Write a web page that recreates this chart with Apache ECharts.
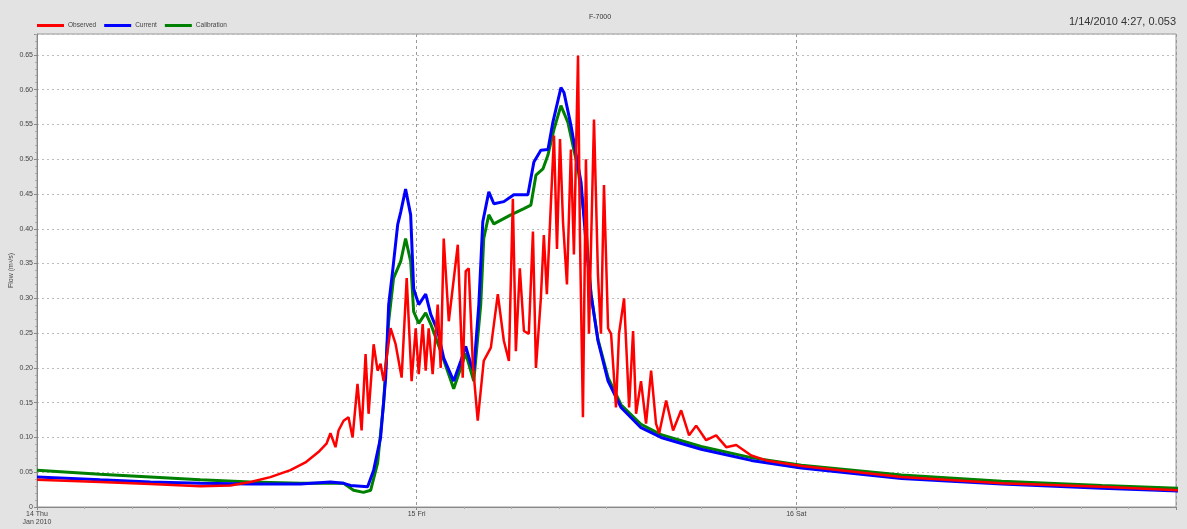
<!DOCTYPE html>
<html><head><meta charset="utf-8">
<script src="https://cdn.jsdelivr.net/npm/echarts@6/dist/echarts.min.js"></script>
<style>html,body{margin:0;padding:0;background:#e3e3e3;}#c{width:1187px;height:529px;}</style>
</head><body><div id="c"></div>
<script>
// Hours after 14 Jan 2010 00:00, and flow values
const observedHours = [0,3.99,7.16,10.32,12.22,13.49,14.75,16.02,16.97,17.79,18.30,18.55,18.87,19.06,19.38,19.69,19.95,20.26,20.52,20.77,20.96,21.28,21.53,21.72,21.91,22.35,22.67,23.05,23.37,23.68,23.94,24.13,24.38,24.57,24.76,25.01,25.33,25.52,25.71,26.03,26.60,26.91,27.10,27.29,27.55,27.86,28.24,28.69,29.13,29.51,29.83,30.08,30.27,30.52,30.78,31.09,31.35,31.54,31.85,32.04,32.23,32.49,32.68,32.87,33.06,33.25,33.50,33.75,33.94,34.20,34.32,34.51,34.70,34.89,35.21,35.46,35.65,35.84,36.10,36.29,36.60,36.79,37.11,37.43,37.68,37.87,38.18,38.50,38.82,39.13,39.33,39.77,40.21,40.72,41.22,41.67,42.30,42.93,43.57,44.20,45.15,46.10,48.32,54.65,60.98,67.31,72.13];
const observedValues = [0.039,0.036,0.033,0.030,0.031,0.036,0.043,0.053,0.064,0.079,0.091,0.106,0.086,0.110,0.124,0.129,0.100,0.177,0.110,0.220,0.134,0.234,0.196,0.206,0.181,0.257,0.234,0.186,0.329,0.181,0.257,0.191,0.263,0.196,0.257,0.191,0.291,0.200,0.386,0.267,0.377,0.186,0.339,0.343,0.206,0.124,0.210,0.229,0.306,0.239,0.210,0.443,0.224,0.343,0.253,0.249,0.396,0.200,0.300,0.391,0.306,0.439,0.534,0.371,0.529,0.410,0.320,0.514,0.363,0.649,0.391,0.129,0.500,0.249,0.557,0.334,0.249,0.463,0.257,0.249,0.143,0.249,0.300,0.143,0.253,0.134,0.181,0.120,0.196,0.120,0.106,0.153,0.110,0.139,0.103,0.117,0.096,0.103,0.086,0.089,0.074,0.067,0.059,0.043,0.034,0.029,0.024];

const currentHours = [0,3.99,7.16,10.32,13.49,16.65,18.55,19.38,19.82,20.90,21.28,21.72,22.04,22.23,22.48,22.80,22.99,23.30,23.62,23.81,24.13,24.57,24.89,25.33,25.71,26.34,26.79,27.10,27.42,27.61,27.93,28.18,28.56,28.88,29.51,30.14,31.03,31.41,31.85,32.30,32.61,33.12,33.31,33.75,34.39,34.70,35.02,35.46,36.10,36.92,38.18,39.45,41.98,45.15,48.32,54.65,60.98,67.31,72.13];
const currentValues = [0.043,0.039,0.036,0.034,0.033,0.033,0.036,0.034,0.031,0.029,0.053,0.100,0.186,0.291,0.339,0.406,0.424,0.457,0.420,0.314,0.291,0.306,0.277,0.253,0.214,0.181,0.210,0.231,0.206,0.196,0.291,0.410,0.453,0.436,0.439,0.449,0.449,0.496,0.513,0.514,0.553,0.603,0.596,0.549,0.467,0.381,0.306,0.239,0.181,0.143,0.114,0.100,0.083,0.067,0.056,0.041,0.033,0.027,0.023];

const calibrationHours = [0,3.99,7.16,10.32,13.49,16.65,19.38,20.01,20.64,21.09,21.53,21.91,22.23,22.54,22.99,23.30,23.62,23.81,24.13,24.57,24.89,25.52,26.34,26.79,27.10,27.61,28.05,28.24,28.56,28.88,29.95,30.78,31.22,31.54,31.98,32.30,32.68,33.12,33.56,34.20,34.70,35.02,35.46,36.10,36.92,38.18,39.45,41.98,45.15,48.32,54.65,60.98,67.31,72.13];
const calibrationValues = [0.053,0.047,0.043,0.039,0.036,0.034,0.034,0.024,0.021,0.024,0.063,0.149,0.267,0.329,0.353,0.386,0.353,0.281,0.264,0.279,0.263,0.224,0.170,0.200,0.221,0.181,0.291,0.386,0.420,0.407,0.420,0.429,0.434,0.477,0.486,0.506,0.543,0.577,0.553,0.486,0.400,0.306,0.241,0.186,0.147,0.119,0.104,0.087,0.071,0.060,0.046,0.037,0.031,0.027];

const seriesNames = ['Observed','Current','Calibration'];
const dayLabels = ['14 Thu\nJan 2010','15 Fri','16 Sat'];
const chartTitle = 'F-7000';
const cursorText = '1/14/2010 4:27, 0.053';
const yAxisTitle = 'Flow (m³/s)';
const xAxisTitle = 'Date/Time';

function pairs(hs, vs){ return hs.map((h,i)=>[h, vs[i]]); }

const chart = echarts.init(document.getElementById('c'), null, {renderer:'canvas'});
const labelFont = {fontFamily:'Liberation Sans', fontSize:7, color:'#444'};
chart.setOption({
  backgroundColor:'#e3e3e3',
  animation:false,
  title:[
    {text:chartTitle, left:595, top:9, textAlign:'center', textStyle:{fontFamily:'Liberation Sans', fontSize:7, fontWeight:'normal', color:'#333'}},
    {text:cursorText, right:6, top:11, textStyle:{fontFamily:'Liberation Sans', fontSize:11, fontWeight:'normal', color:'#333'}}
  ],
  legend:{
    data:seriesNames, left:32, top:17, itemWidth:27, itemHeight:3, itemGap:8, icon:'rect',
    textStyle:{fontFamily:'Liberation Sans', fontSize:6.5, color:'#444', padding:[0,0,0,-1]}
  },
  grid:{left:37, right:11, top:34, bottom:22, show:true, backgroundColor:'#ffffff', borderColor:'#999', borderWidth:1, outerBoundsMode:'none', containLabel:false},
  xAxis:{
    type:'value', min:0, max:72, interval:24,
    name:xAxisTitle, nameLocation:'middle', nameGap:13, nameTextStyle:labelFont,
    axisLine:{show:true, onZero:false, lineStyle:{color:'#888'}},
    axisTick:{show:true, length:3, lineStyle:{color:'#888'}},
    minorTick:{show:true, splitNumber:8, length:2, lineStyle:{color:'#aaa'}},
    splitLine:{show:true, lineStyle:{color:'#999', type:[3,3], width:1}},
    axisLabel:Object.assign({}, labelFont, {
      margin:3, showMaxLabel:false, showMinLabel:true, lineHeight:8,
      formatter:function(v){ const i = Math.round(v/24); return dayLabels[i] || ''; }
    })
  },
  yAxis:{
    type:'value', min:0, max:0.68, interval:0.05,
    name:yAxisTitle, nameLocation:'middle', nameGap:22, nameRotate:90, nameMoveOverlap:false, nameTextStyle:labelFont,
    axisLine:{show:true, lineStyle:{color:'#888'}},
    axisTick:{show:true, length:3, lineStyle:{color:'#888'}},
    minorTick:{show:true, splitNumber:5, length:2, lineStyle:{color:'#aaa'}},
    splitLine:{show:true, lineStyle:{color:'#bbb', type:[2,3], width:1}},
    axisLabel:Object.assign({}, labelFont, {
      margin:4, showMaxLabel:false,
      formatter:function(v){ return v === 0 ? '0' : v.toFixed(2); }
    })
  },
  series:[
    {name:'Observed', type:'line', showSymbol:false, symbol:'none', z:4, data:pairs(observedHours, observedValues), lineStyle:{color:'#ff0000', width:2.5}, itemStyle:{color:'#ff0000'}},
    {name:'Current', type:'line', showSymbol:false, symbol:'none', z:3, data:pairs(currentHours, currentValues), lineStyle:{color:'#0000ff', width:3}, itemStyle:{color:'#0000ff'}},
    {name:'Calibration', type:'line', showSymbol:false, symbol:'none', z:2, data:pairs(calibrationHours, calibrationValues), lineStyle:{color:'#008000', width:3}, itemStyle:{color:'#008000'}}
  ]
});
</script></body></html>
